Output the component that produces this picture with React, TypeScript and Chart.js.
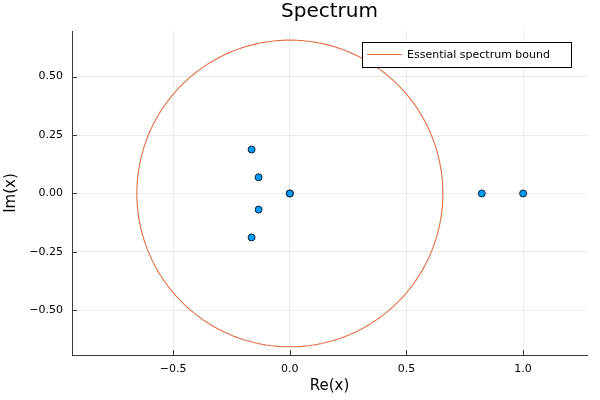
import React, { useEffect, useRef } from "react";
import { Chart, registerables } from "chart.js";

Chart.register(...registerables);

const eigRe = [0, 0, -0.164, -0.134, -0.134, -0.164, 0.823, 1.0];
const eigIm = [0, 0, 0.188, 0.069, -0.069, -0.188, 0, 0];
const boundRadius = 0.656;
const circleSamples = 240;
const xTicks = [-0.5, 0, 0.5, 1.0];
const xTickLabels = ["\u22120.5", "0.0", "0.5", "1.0"];
const yTicks = [-0.5, -0.25, 0, 0.25, 0.5];
const yTickLabels = ["\u22120.50", "\u22120.25", "0.00", "0.25", "0.50"];
const xRange = [-0.934, 1.274];
const yRange = [-0.691, 0.695];
const titleText = "Spectrum";
const xLabel = "Re(x)";
const yLabel = "Im(x)";
const legendLabel = "Essential spectrum bound";

const FONT = "'DejaVu Sans', sans-serif";
const AXIS_COLOR = "#3a3a3a";
const BLUE = "#009AFA";
const ORANGE = "#E26F46";

export default function App() {
  const ref = useRef<HTMLCanvasElement | null>(null);

  useEffect(() => {
    if (!ref.current) return;
    const scatter = eigRe.map((x, i) => ({ x, y: eigIm[i] }));
    const circle: { x: number; y: number }[] = [];
    for (let k = 0; k <= circleSamples; k++) {
      const t = (2 * Math.PI * k) / circleSamples;
      circle.push({ x: boundRadius * Math.cos(t), y: boundRadius * Math.sin(t) });
    }

    const decor = {
      id: "decor",
      beforeDatasetsDraw(chart: any) {
        const { ctx, chartArea, scales } = chart;
        ctx.save();
        ctx.strokeStyle = AXIS_COLOR;
        ctx.lineWidth = 1;
        ctx.beginPath();
        xTicks.forEach((v) => {
          const px = Math.round(scales.x.getPixelForValue(v)) + 0.5;
          ctx.moveTo(px, chartArea.bottom);
          ctx.lineTo(px, chartArea.bottom - 5);
        });
        yTicks.forEach((v) => {
          const py = Math.round(scales.y.getPixelForValue(v)) + 0.5;
          ctx.moveTo(chartArea.left, py);
          ctx.lineTo(chartArea.left + 5, py);
        });
        ctx.stroke();
        ctx.restore();
      },
      afterDraw(chart: any) {
        const { ctx, chartArea } = chart;
        ctx.save();
        ctx.fillStyle = "#000";
        ctx.font = `20px ${FONT}`;
        ctx.textAlign = "center";
        ctx.textBaseline = "middle";
        ctx.fillText(titleText, (chartArea.left + chartArea.right) / 2, 12);
        const bx = 362, by = 42, bw = 209, bh = 25;
        ctx.fillStyle = "#fff";
        ctx.fillRect(bx, by, bw, bh);
        ctx.strokeStyle = "#000";
        ctx.lineWidth = 1;
        ctx.strokeRect(bx + 0.5, by + 0.5, bw, bh);
        ctx.strokeStyle = ORANGE;
        ctx.beginPath();
        ctx.moveTo(367, 54.5);
        ctx.lineTo(402, 54.5);
        ctx.stroke();
        ctx.fillStyle = "#000";
        ctx.font = `11px ${FONT}`;
        ctx.textAlign = "left";
        ctx.fillText(legendLabel, 407, 55);
        ctx.restore();
      },
    };

    const chart = new Chart(ref.current, {
      type: "scatter",
      data: {
        datasets: [
          {
            label: "eigenvalues",
            data: scatter,
            backgroundColor: BLUE,
            borderColor: "#000",
            borderWidth: 0.8,
            pointRadius: 3.5,
            order: 2,
          },
          {
            label: legendLabel,
            data: circle,
            showLine: true,
            borderColor: ORANGE,
            borderWidth: 1.1,
            pointRadius: 0,
            tension: 0.0001,
            fill: false,
            order: 1,
          } as any,
        ],
      },
      options: {
        responsive: false,
        animation: false,
        devicePixelRatio: 1,
        layout: { padding: { top: 31, right: 13, left: 0, bottom: 0 } },
        plugins: {
          legend: { display: false },
          title: { display: false },
          tooltip: { enabled: false },
        },
        scales: {
          x: {
            type: "linear",
            min: xRange[0],
            max: xRange[1],
            afterBuildTicks: (s: any) => {
              s.ticks = xTicks.map((value) => ({ value }));
            },
            afterFit: (s: any) => {
              s.height = 45;
            },
            ticks: {
              padding: 8,
              color: "#000",
              font: { family: FONT, size: 11 },
              maxRotation: 0,
              autoSkip: false,
              callback: (v: any) => xTickLabels[xTicks.indexOf(Number(v))] ?? "",
            },
            grid: { color: "rgba(0,0,0,0.07)", lineWidth: 1, drawTicks: false },
            border: { display: true, color: AXIS_COLOR, width: 1 },
            title: {
              display: true,
              text: xLabel,
              color: "#000",
              font: { family: FONT, size: 15 },
              padding: { top: 0, bottom: 5 },
            },
          },
          y: {
            type: "linear",
            min: yRange[0],
            max: yRange[1],
            afterBuildTicks: (s: any) => {
              s.ticks = yTicks.map((value) => ({ value }));
            },
            afterFit: (s: any) => {
              s.width = 72;
            },
            ticks: {
              padding: 9,
              color: "#000",
              font: { family: FONT, size: 11 },
              autoSkip: false,
              callback: (v: any) => yTickLabels[yTicks.indexOf(Number(v))] ?? "",
            },
            grid: { color: "rgba(0,0,0,0.07)", lineWidth: 1, drawTicks: false },
            border: { display: true, color: AXIS_COLOR, width: 1 },
            title: {
              display: true,
              text: yLabel,
              color: "#000",
              font: { family: FONT, size: 15 },
              padding: { top: 2, bottom: 0 },
            },
          },
        },
      },
      plugins: [decor],
    });
    return () => chart.destroy();
  }, []);

  return (
    <div style={{ position: "fixed", left: 0, top: 0, width: 600, height: 400, background: "#fff" }}>
      <canvas ref={ref} width={600} height={400} style={{ display: "block" }} />
    </div>
  );
}
